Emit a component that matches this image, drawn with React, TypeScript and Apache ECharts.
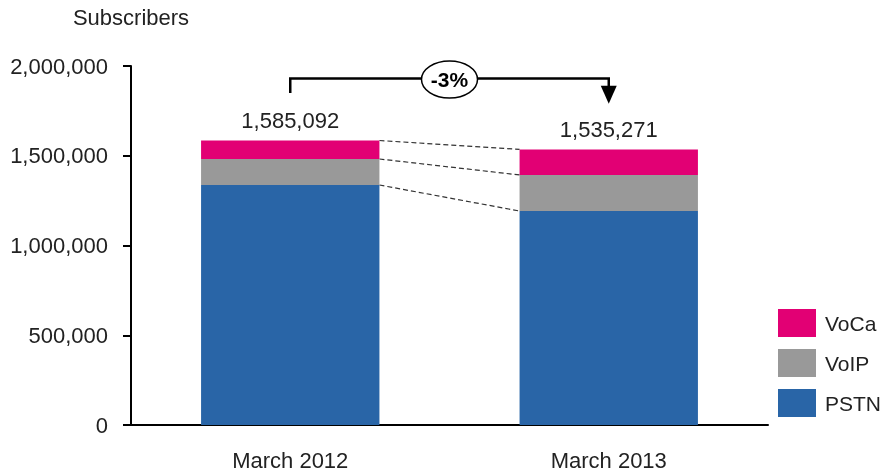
import React, { useEffect, useRef } from "react";
import * as echarts from "echarts";

const categories = ["March 2012", "March 2013"];
const pstn = [1337000, 1192000];
const voip = [145000, 201000];
const voca = [103092, 142271];
const totals = [1585092, 1535271];
const totalLabels = ["1,585,092", "1,535,271"];
const changeLabel = "-3%";
const yTicks = [0, 500000, 1000000, 1500000, 2000000];

const FONT = "'Liberation Sans', Arial, sans-serif";
const TXT = "#222222";
const BAR_FRAC = 0.56;

export default function App() {
  const ref = useRef<HTMLDivElement>(null);
  useEffect(() => {
    if (!ref.current) return;
    const chart = echarts.init(ref.current, null, { renderer: "svg" });
    const fmt = (v: number) => v.toLocaleString("en-US");
    chart.setOption({
      animation: false,
      textStyle: { fontFamily: FONT },
      grid: { left: 131, right: 116, top: 66, bottom: 46 },
      legend: {
        orient: "vertical",
        left: 773,
        top: 304,
        itemWidth: 38,
        itemHeight: 28,
        itemGap: 12,
        padding: [5, 0, 5, 5],
        data: ["VoCa", "VoIP", "PSTN"],
        textStyle: { fontSize: 21, color: TXT, fontFamily: FONT, padding: [0, 0, 0, 4] },
        icon: "rect",
        selectedMode: false,
      },
      xAxis: {
        type: "category",
        data: categories,
        axisLine: { lineStyle: { color: "#000", width: 2 } },
        axisTick: { show: false },
        axisLabel: { fontSize: 22, color: TXT, margin: 24, fontFamily: FONT },
      },
      yAxis: {
        type: "value",
        min: yTicks[0],
        max: yTicks[yTicks.length - 1],
        interval: yTicks[1] - yTicks[0],
        name: "Subscribers",
        nameLocation: "end",
        nameGap: 38,
        nameTextStyle: { fontSize: 22, color: TXT, align: "center", fontFamily: FONT },
        axisLine: { show: true, lineStyle: { color: "#000", width: 2 } },
        axisTick: { show: true, length: 8, lineStyle: { color: "#000", width: 2 } },
        splitLine: { show: false },
        axisLabel: { fontSize: 22, color: TXT, margin: 23, formatter: (v: number) => fmt(v), fontFamily: FONT },
      },
      series: [
        { name: "PSTN", type: "bar", stack: "s", data: pstn, barWidth: BAR_FRAC * 100 + "%", itemStyle: { color: "#2965a7" } },
        { name: "VoIP", type: "bar", stack: "s", data: voip, itemStyle: { color: "#999999" } },
        {
          name: "VoCa", type: "bar", stack: "s", data: voca, itemStyle: { color: "#e20074" },
          label: {
            show: true, position: "top", distance: 9, fontSize: 22, color: TXT, fontFamily: FONT,
            formatter: (p: any) => totalLabels[p.dataIndex],
          },
        },
      ],
    });

    const px = (i: number, v: number) => chart.convertToPixel({ gridIndex: 0 }, [i, v]) as number[];
    const c0 = px(0, 0);
    const c1 = px(1, 0);
    const bandW = c1[0] - c0[0];
    const half = (bandW * BAR_FRAC) / 2;
    const levels = [
      [pstn[0], pstn[1]],
      [pstn[0] + voip[0], pstn[1] + voip[1]],
      [totals[0], totals[1]],
    ];
    const graphics: any[] = [];
    levels.forEach(([a, b]) => {
      const p0 = px(0, a);
      const p1 = px(1, b);
      graphics.push({
        type: "line",
        shape: { x1: p0[0] + half, y1: p0[1], x2: p1[0] - half, y2: p1[1] },
        style: { stroke: "#333", lineWidth: 1.2, lineDash: [5, 3] },
      });
    });
    const yTop = px(0, 1930000)[1];
    const yStart = px(0, 1850000)[1];
    const yEnd = px(1, 1790000)[1];
    const x0 = c0[0];
    const x1 = c1[0];
    graphics.push({
      type: "polyline",
      shape: { points: [[x0, yStart], [x0, yTop], [x1, yTop], [x1, yEnd - 17]] },
      style: { stroke: "#000", lineWidth: 2.5, fill: "none" },
    });
    graphics.push({
      type: "polygon",
      shape: { points: [[x1 - 8, yEnd - 18], [x1 + 8, yEnd - 18], [x1, yEnd]] },
      style: { fill: "#000" },
    });
    const mx = (x0 + x1) / 2;
    graphics.push({
      type: "ellipse",
      shape: { cx: mx, cy: yTop + 1, rx: 28, ry: 18.5 },
      style: { fill: "#fff", stroke: "#000", lineWidth: 1.5 },
    });
    graphics.push({
      type: "text",
      x: mx,
      y: yTop + 1,
      style: {
        text: changeLabel, fontSize: 21, fontWeight: "bold", fill: "#000",
        align: "center", verticalAlign: "middle", fontFamily: FONT,
      },
    });
    chart.setOption({ graphic: graphics });
    return () => chart.dispose();
  }, []);
  return <div ref={ref} style={{ width: 884, height: 471, position: "fixed", left: 0, top: 0 }} />;
}
